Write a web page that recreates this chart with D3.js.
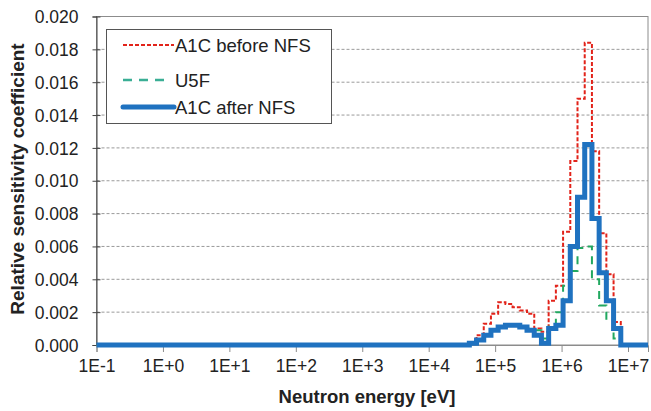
<!DOCTYPE html>
<html><head><meta charset="utf-8">
<script src="https://cdn.jsdelivr.net/npm/d3@7/dist/d3.min.js"></script>
<style>body{margin:0;background:#fff}svg{display:block}text{font-family:"Liberation Sans",Arial,sans-serif}</style>
</head><body><svg id="c" width="651" height="411"></svg>
<script>
// Energy group boundaries (eV), ascending
const energyEdges = [0.1, 4.09e4, 5.25e4, 6.74e4, 8.65e4, 1.11e5, 1.43e5, 1.83e5, 2.35e5, 3.02e5, 3.88e5, 4.98e5, 6.39e5, 8.21e5, 1.054e6, 1.353e6, 1.738e6, 2.231e6, 2.865e6, 3.679e6, 4.724e6, 6.065e6, 7.788e6, 2e7];
// Sensitivity per group (value between edge i and edge i+1)
const a1cBefore = [0, 0.0001, 0.0006, 0.0013, 0.0019, 0.0026, 0.0025, 0.0023, 0.0021, 0.0019, 0.0010, 0.0008, 0.0027, 0.0036, 0.0069, 0.0112, 0.0150, 0.0184, 0.0118, 0.0068, 0.0043, 0.0014, 0];
const u5f = [0, 0.0001, 0.0003, 0.0006, 0.0009, 0.0011, 0.0012, 0.0012, 0.0011, 0.0010, 0.0009, 0.0004, 0.0012, 0.0020, 0.0036, 0.0045, 0.0059, 0.0060, 0.0040, 0.0024, 0.0015, 0.0004, 0];
const a1cAfter = [0, 0.0001, 0.0003, 0.0006, 0.0009, 0.0011, 0.0012, 0.0012, 0.0011, 0.0009, 0.0006, 0.0001, 0.0010, 0.0012, 0.0027, 0.0060, 0.0090, 0.0122, 0.0077, 0.0044, 0.0027, 0.0010, 0];
const xTicks = [1e-1, 1e0, 1e1, 1e2, 1e3, 1e4, 1e5, 1e6, 1e7];
const xTickLabels = ["1E-1", "1E+0", "1E+1", "1E+2", "1E+3", "1E+4", "1E+5", "1E+6", "1E+7"];
const yTicks = [0, 0.002, 0.004, 0.006, 0.008, 0.010, 0.012, 0.014, 0.016, 0.018, 0.020];
const seriesNames = ["A1C before NFS", "U5F", "A1C after NFS"];

const L = 96.5, R = 648, T = 16.5, B = 345;
const svg = d3.select("#c");
const x = d3.scaleLog().domain([0.1, 2e7]).range([L, R]);
const y = d3.scaleLinear().domain([0, 0.02]).range([B, T]);

// gridlines
svg.append("g").selectAll("line").data(yTicks.slice(1, -1)).join("line")
  .attr("x1", L).attr("x2", R).attr("y1", d => y(d)).attr("y2", d => y(d))
  .attr("stroke", "#9a9a9a").attr("stroke-width", 1).attr("stroke-dasharray", "3,2");

// plot frame
svg.append("rect").attr("x", L).attr("y", T).attr("width", R - L).attr("height", B - T)
  .attr("fill", "none").attr("stroke", "#8c8c8c").attr("stroke-width", 1);

// y axis
const yAxis = d3.axisLeft(y).tickValues(yTicks).tickFormat(d3.format(".3f")).tickSize(4).tickPadding(14);
const gy = svg.append("g").attr("transform", `translate(${L},0)`).call(yAxis);
gy.select(".domain").attr("stroke", "#444");
gy.selectAll(".tick line").attr("stroke", "#444").attr("x2", -4).attr("x1", 4);
gy.selectAll("text").attr("font-size", 17.5).attr("fill", "#222").attr("font-family", "Liberation Sans, Arial, sans-serif").attr("dy", "0.35em");

// x axis
const xAxis = d3.axisBottom(x).tickValues(xTicks).tickFormat((d, i) => xTickLabels[i]).tickSize(7).tickPadding(8);
const gx = svg.append("g").attr("transform", `translate(0,${B})`).call(xAxis);
gx.select(".domain").attr("stroke", "#8c8c8c");
gx.selectAll(".tick line").attr("stroke", "#8c8c8c");
gx.selectAll("text").attr("font-size", 17.5).attr("fill", "#222").attr("font-family", "Liberation Sans, Arial, sans-serif");

// series
function pts(vals) {
  const p = vals.map((v, i) => [energyEdges[i], v]);
  p.push([energyEdges[energyEdges.length - 1], vals[vals.length - 1]]);
  return p;
}
const line = d3.line().x(d => x(d[0])).y(d => y(d[1])).curve(d3.curveStepAfter);
const styles = [
  {data: a1cBefore, color: "#e2231a", w: 2, dash: "4,2"},
  {data: u5f, color: "#22a860", w: 2, dash: "8,6"},
  {data: a1cAfter, color: "#1f72c0", w: 5, dash: null}
];
styles.forEach(s => {
  svg.append("path").datum(pts(s.data)).attr("d", line).attr("fill", "none")
    .attr("stroke", s.color).attr("stroke-width", s.w)
    .attr("stroke-dasharray", s.dash).attr("stroke-linejoin", "miter");
});

// legend
const lg = svg.append("g");
lg.append("rect").attr("x", 106.5).attr("y", 29.5).attr("width", 225).attr("height", 94)
  .attr("fill", "#fff").attr("stroke", "#555").attr("stroke-width", 1);
const rowsY = [45, 80, 107];
const legendStyles = [
  {color: "#e2231a", w: 2, dash: "4,2", x2: 174},
  {color: "#3aae95", w: 2.5, dash: "9,7", x2: 164},
  {color: "#1f72c0", w: 5, dash: null, x2: 174}
];
seriesNames.forEach((n, i) => {
  lg.append("line").attr("x1", 123).attr("x2", legendStyles[i].x2).attr("y1", rowsY[i]).attr("y2", rowsY[i])
    .attr("stroke", legendStyles[i].color).attr("stroke-width", legendStyles[i].w)
    .attr("stroke-dasharray", legendStyles[i].dash).attr("stroke-linecap", i === 2 ? "round" : "butt");
  lg.append("text").attr("x", 175).attr("y", rowsY[i]).attr("dy", "0.36em")
    .attr("font-size", 18.5).attr("fill", "#222").text(n);
});

// axis titles
svg.append("text").attr("x", 367).attr("y", 403).attr("text-anchor", "middle")
  .attr("font-size", 18.5).attr("font-weight", "bold").attr("fill", "#222").text("Neutron energy [eV]");
svg.append("text").attr("transform", `translate(24,179) rotate(-90)`).attr("text-anchor", "middle")
  .attr("font-size", 19).attr("font-weight", "bold").attr("fill", "#222").text("Relative sensitivity coefficient");
</script></body></html>
